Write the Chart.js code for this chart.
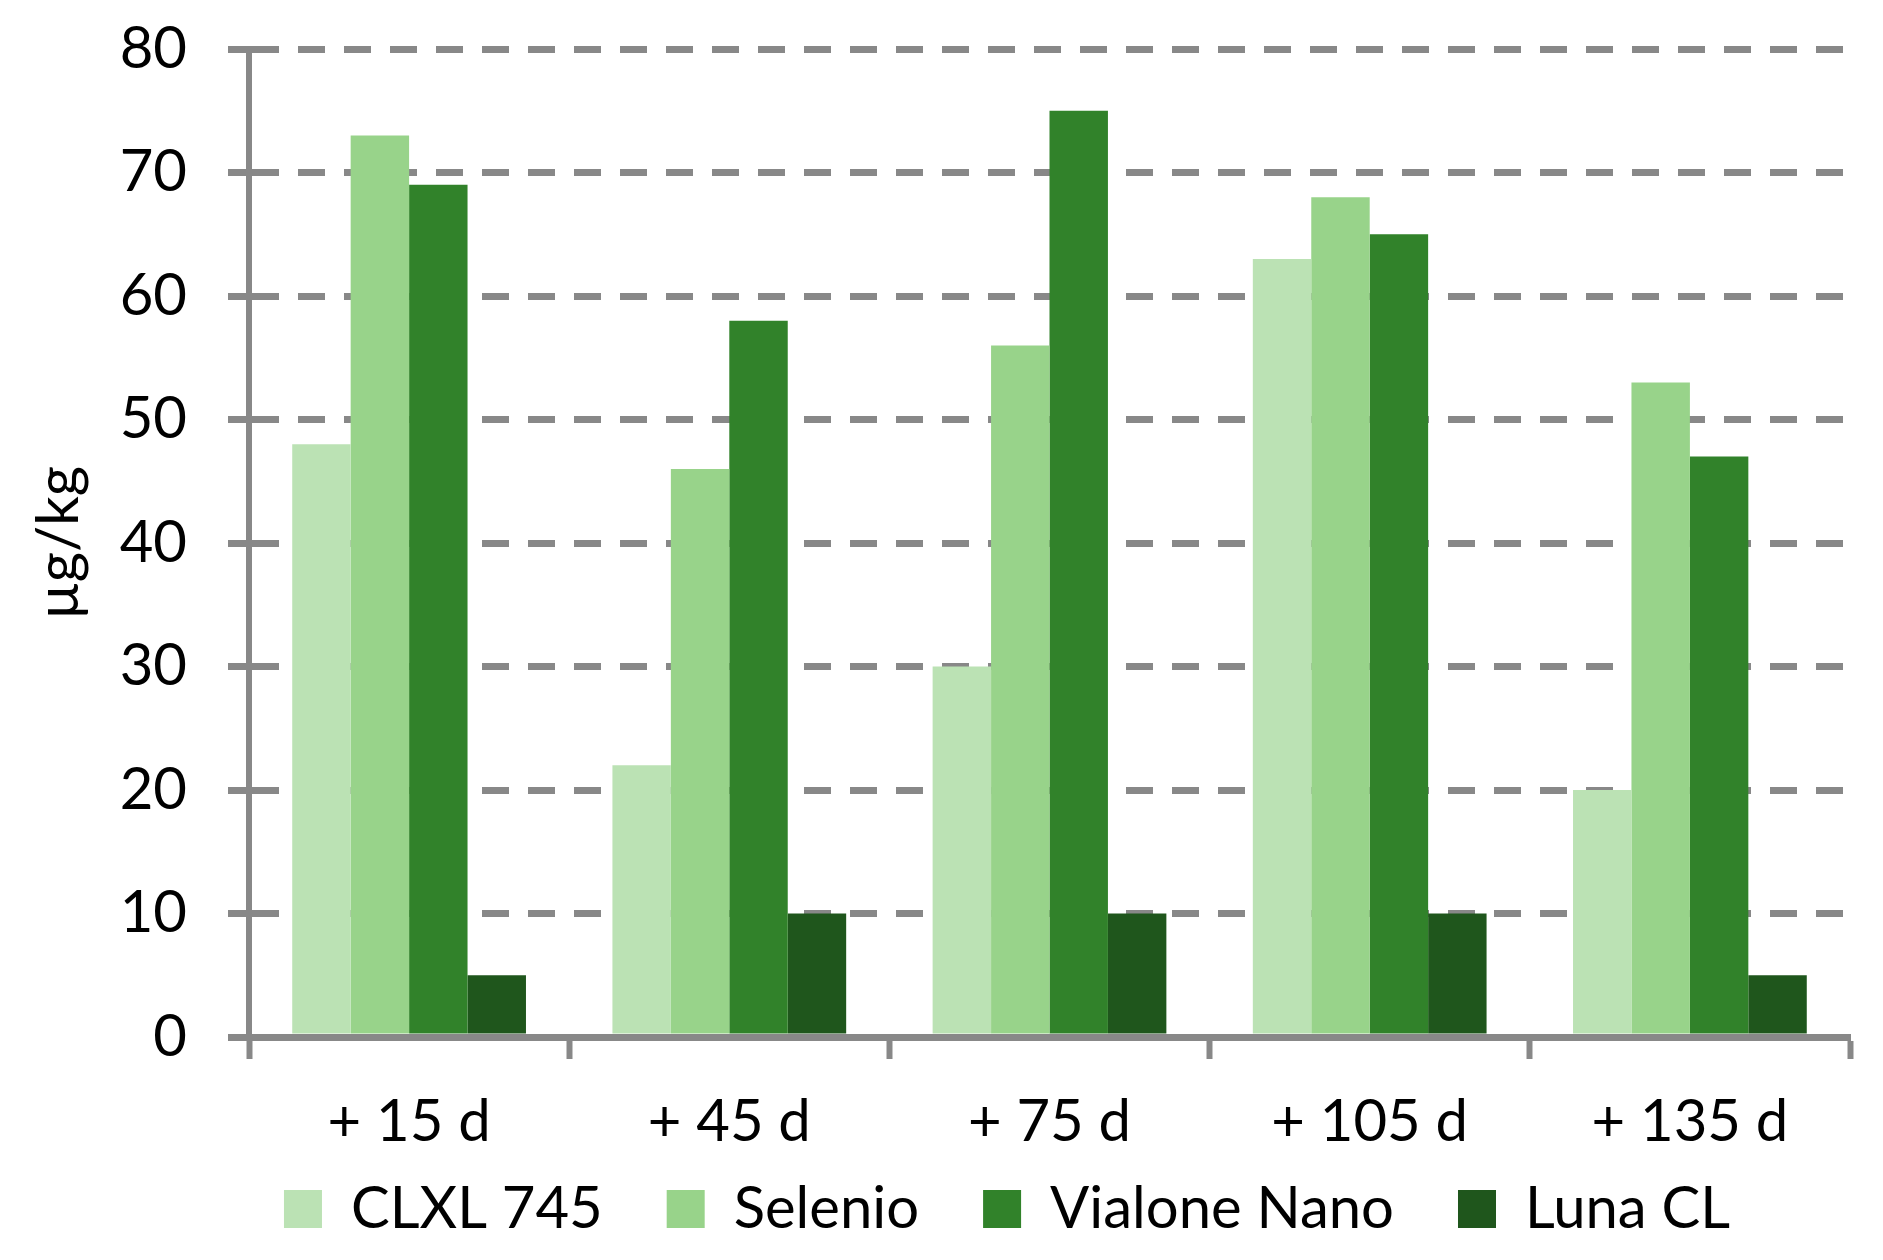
<!DOCTYPE html>
<html>
<head>
<meta charset="utf-8">
<script src="https://cdn.jsdelivr.net/npm/chart.js@4"></script>
<style>
  html, body { margin: 0; padding: 0; background: #fff; }
  #wrap { width: 1883px; height: 1260px; }
</style>
</head>
<body>
<div id="wrap"><canvas id="riceChart" width="1883" height="1260"></canvas></div>
<script>
// days after harvest
const categories = ["+ 15 d", "+ 45 d", "+ 75 d", "+ 105 d", "+ 135 d"];

// µg/kg per variety
const clxl745 = [48, 22, 30, 63, 20];
const selenio = [73, 46, 56, 68, 53];
const vialoneNano = [69, 58, 75, 65, 47];
const lunaCL = [5, 10, 10, 10, 5];

const seriesNames = ["CLXL 745", "Selenio", "Vialone Nano", "Luna CL"];
const seriesColors = ["#bbe2b4", "#98d38a", "#31822a", "#1f561c"];

const yTitle = "µg/kg";

const grey = "#888888";
const fontFamily = "Lato, 'Open Sans', sans-serif";
const fontSize = 58;
const legendPad = 64;

// the original centers the legend further right, and the x labels
// need room below the fixed axis height so they don't get clipped
const layoutTweaks = {
  id: "layoutTweaks",
  afterLayout(chart) {
    const dx = 82;
    chart.legend.left += dx;
    chart.legend.right += dx;
    chart.scales.x.bottom = chart.legend.top + 40;
  }
};

const canvas = document.getElementById("riceChart");

const chart = new Chart(canvas, {
  type: "bar",
  data: {
    labels: categories,
    datasets: [clxl745, selenio, vialoneNano, lunaCL].map((values, i) => ({
      label: seriesNames[i],
      data: values,
      backgroundColor: seriesColors[i],
      borderWidth: 0,
      categoryPercentage: 0.73,
      barPercentage: 1.0
    }))
  },
  options: {
    responsive: false,
    animation: false,
    devicePixelRatio: 1,
    layout: {
      padding: { top: 49, right: 33, bottom: 12, left: 0 }
    },
    plugins: {
      tooltip: { enabled: false },
      legend: {
        position: "bottom",
        labels: {
          boxWidth: 38,
          boxHeight: 38,
          padding: legendPad,
          color: "#000",
          font: { family: fontFamily, size: fontSize }
        }
      }
    },
    scales: {
      x: {
        afterFit(scale) { scale.height = 145 - legendPad - 2; },
        grid: {
          drawOnChartArea: false,
          drawTicks: true,
          tickLength: 22,
          tickWidth: 6,
          tickColor: grey,
          color: grey
        },
        border: { color: grey, width: 7 },
        ticks: {
          color: "#000",
          padding: 28,
          font: { family: fontFamily, size: fontSize }
        }
      },
      y: {
        min: 0,
        max: 80,
        afterFit(scale) {
          scale.width = 249;
          scale.paddingTop = 0;
          scale.paddingBottom = 0;
        },
        grid: {
          color: grey,
          lineWidth: 7,
          drawTicks: true,
          tickLength: 21,
          tickWidth: 7,
          tickColor: grey
        },
        border: { color: grey, width: 6, dash: [27, 19] },
        ticks: {
          stepSize: 10,
          color: "#000",
          padding: 41,
          font: { family: fontFamily, size: fontSize }
        },
        title: {
          display: true,
          text: yTitle,
          color: "#000",
          padding: { top: 24, bottom: 0 },
          font: { family: fontFamily, size: fontSize }
        }
      }
    }
  },
  plugins: [layoutTweaks]
});
</script>
</body>
</html>
